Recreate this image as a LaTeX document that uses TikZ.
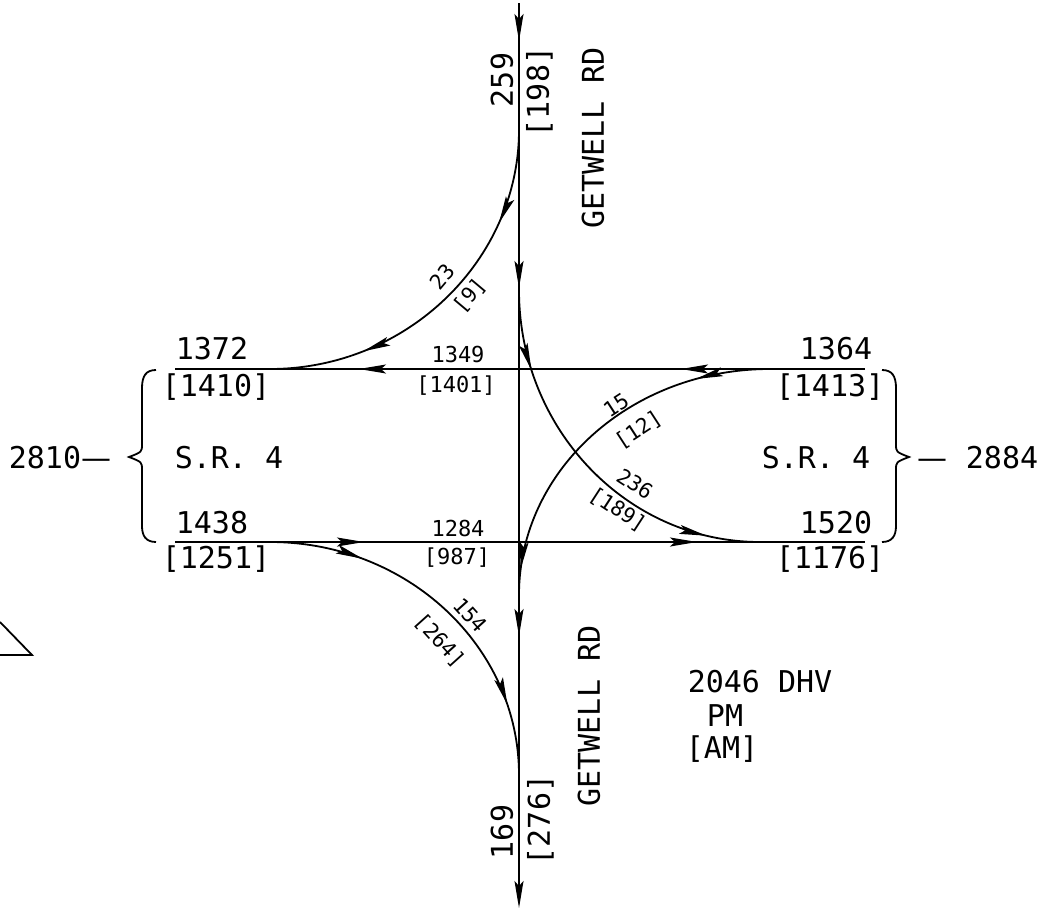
\documentclass[tikz,border=0pt]{standalone}
\usepackage{fontspec}
\newfontfamily\cad{DejaVu Sans Mono}
\newfontfamily\dashf{DejaVu Sans}
\usetikzlibrary{arrows.meta,decorations.markings}
\begin{document}
\begin{tikzpicture}[x=1pt,y=-1pt, line width=1.8pt,
  >={Stealth[length=27pt,width=9pt,inset=5pt]},
  big/.style={font=\cad\fontsize{30}{30}\selectfont, inner sep=0pt, text height=21.9pt, text depth=0pt},
  sml/.style={font=\cad\fontsize{22}{22}\selectfont, inner sep=0pt, text height=16pt, text depth=0pt},
  crv/.style={font=\cad\fontsize{21}{21}\selectfont, inner sep=0pt, text height=15.3pt, text depth=0pt},
  twoarrows/.style n args={2}{postaction={decorate}, decoration={markings,
      mark=at position #1 with {\arrow{>}}, mark=at position #2 with {\arrow{>}}}},
]
\useasboundingbox (0,0) rectangle (1053,910);

% named points
\coordinate (vtop) at (519,3);
\coordinate (vbot) at (519,908);
\coordinate (tE) at (865,369);
\coordinate (tW) at (175,369);
\coordinate (bW) at (175,542);
\coordinate (bE) at (865,542);
\coordinate (c1s) at (519,130);
\coordinate (c1e) at (270,369);
\coordinate (c2s) at (519,290);
\coordinate (c2e) at (760,542);
\coordinate (c3s) at (770,369);
\coordinate (c3e) at (519,595);
\coordinate (c4s) at (270,542);
\coordinate (c4e) at (519,775);

% Getwell Rd (southbound through)
\draw[->, postaction={decorate}, decoration={markings,
   mark=at position 38pt with {\arrow{>}},
   mark=at position 285pt with {\arrow{>}},
   mark=at position 633pt with {\arrow{>}}}] (vtop) -- (vbot);

% S.R. 4 westbound
\draw[twoarrows={184pt}{506pt}] (tE) -- (tW);
% S.R. 4 eastbound
\draw[twoarrows={189pt}{522pt}] (bW) -- (bE);

% turning movements
\draw[twoarrows={0.25}{0.75}] (c1s) .. controls (519,260) and (407,369) .. (c1e);
\draw[twoarrows={0.21}{0.86}] (c2s) .. controls (519,429) and (627,542) .. (c2e);
\draw[twoarrows={0.20}{0.93}] (c3s) .. controls (631,369) and (519,470) .. (c3e);
\draw[twoarrows={0.25}{0.81}] (c4s) .. controls (407,542) and (519,646) .. (c4e);

% braces
\draw (156,370) .. controls (146,370) and (142,376) .. (142,388) -- (142,444)
  .. controls (142,452) .. (129,457) .. controls (142,462) .. (142,470) -- (142,526)
  .. controls (142,536) and (146,542) .. (156,542);
\draw (882,370) .. controls (892,370) and (896,376) .. (896,388) -- (896,444)
  .. controls (896,452) .. (909,457) .. controls (896,462) .. (896,470) -- (896,526)
  .. controls (896,536) and (892,542) .. (882,542);

% partial symbol at left
\draw (0,622) -- (32,655) -- (0,655);

% approach labels
\node[big] (n1372) at (212,349) {1372};
\node[big] (n1410) at (216,386) {[1410]};
\node[big] (n1438) at (212,523) {1438};
\node[big] (n1251) at (216,558) {[1251]};
\node[big] (n1364) at (836,349) {1364};
\node[big] (n1413) at (830,386) {[1413]};
\node[big] (n1520) at (836,523) {1520};
\node[big] (n1176) at (830,558) {[1176]};
\node[big] (srw) at (229,458) {S.R. 4};
\node[big] (sre) at (816,458) {S.R. 4};
\node[big] (n2810) at (60,458) {2810{\dashf —}};
\node[big] (n2884) at (978,458) {{\dashf —} 2884};

% through labels
\node[sml] (n1349) at (458,354) {1349};
\node[sml] (n1401) at (456,384) {[1401]};
\node[sml] (n1284) at (458,528) {1284};
\node[sml] (n987) at (457,556) {[987]};

% vertical labels
\node[big, rotate=90] (n259) at (502,80) {259};
\node[big, rotate=90] (n198) at (538,92) {[198]};
\node[big, rotate=90] (gtop) at (593,138) {GETWELL RD};
\node[big, rotate=90] (gbot) at (589,716) {GETWELL RD};
\node[big, rotate=90] (n169) at (502,832) {169};
\node[big, rotate=90] (n276) at (539,820) {[276]};

% curve labels
\node[crv, rotate=50] (n23) at (442,277) {23};
\node[crv, rotate=50] (n9) at (469,295) {[9]};
\node[crv, rotate=33] (n15) at (616,405) {15};
\node[crv, rotate=33] (n12) at (638,429) {[12]};
\node[crv, rotate=-33] (n236) at (635,484) {236};
\node[crv, rotate=-33] (n189) at (618,509) {[189]};
\node[crv, rotate=-48] (n154) at (470,615) {154};
\node[crv, rotate=-48] (n264) at (440,640) {[264]};

% legend
\node[big] (dhv) at (760,682) {2046 DHV};
\node[big] (pm) at (725,716) {PM};
\node[big] (am) at (722,748) {[AM]};
\end{tikzpicture}
\end{document}
